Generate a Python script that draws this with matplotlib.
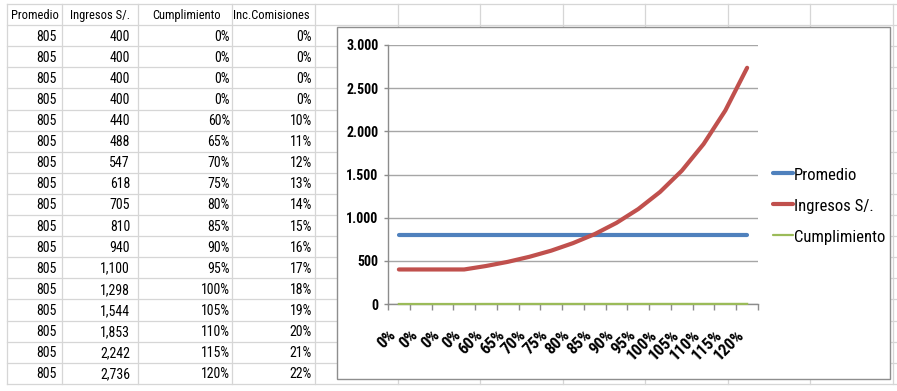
import matplotlib
matplotlib.use("Agg")
import matplotlib.pyplot as plt
from matplotlib import font_manager as fm
from matplotlib.lines import Line2D
from matplotlib.patches import Rectangle
from matplotlib.ticker import FixedLocator, FuncFormatter

# ---------------- data ----------------
headers = ["Promedio", "Ingresos S/.", "Cumplimiento", "Inc.Comisiones"]
promedio = [805, 805, 805, 805, 805, 805, 805, 805, 805, 805, 805, 805, 805, 805, 805, 805, 805]
ingresos = [400, 400, 400, 400, 440, 488, 547, 618, 705, 810, 940, 1100, 1298, 1544, 1853, 2242, 2736]
cumplimiento = [0, 0, 0, 0, 60, 65, 70, 75, 80, 85, 90, 95, 100, 105, 110, 115, 120]
inc_comisiones = [0, 0, 0, 0, 10, 11, 12, 13, 14, 15, 16, 17, 18, 19, 20, 21, 22]
series_names = ["Promedio", "Ingresos S/.", "Cumplimiento"]
y_ticks = [0, 500, 1000, 1500, 2000, 2500, 3000]

# ---------------- fonts ----------------
names = {f.name for f in fm.fontManager.ttflist}
NARROW, K = "Liberation Sans", 0.84
for cand in ["Liberation Sans Narrow", "Arial Narrow", "Roboto Condensed", "PT Sans Narrow",
             "Archivo Narrow", "Open Sans Condensed"]:
    if cand in names:
        NARROW, K = cand, 1.0
        break

W, H = 897, 391
fig = plt.figure(figsize=(W / 100, H / 100), dpi=100)
fig.patch.set_facecolor("white")


def fx(x):
    return x / W


def fy(y):
    return 1 - y / H


# ---------------- spreadsheet grid ----------------
GRID = "#D6D6D6"
row_top = 4.0
row_h = 21.1
n_rows = len(promedio) + 1
col_x = [7, 62, 138, 232, 315, 398, 480, 563, 645, 728, 810, 893]
bottom = row_top + n_rows * row_h
for k in range(n_rows + 1):
    y = row_top + k * row_h
    fig.add_artist(Line2D([fx(7), fx(W)], [fy(y), fy(y)], color=GRID, lw=0.9, zorder=0.5))
for x in col_x:
    fig.add_artist(Line2D([fx(x), fx(x)], [fy(row_top), fy(bottom)], color=GRID, lw=0.9, zorder=0.5))

# ---------------- table text ----------------
tfs = 10 * K
hfs = 9 * K
head_centers = [34.5, 99.5, 187, 271]
for c, h in zip(head_centers, headers):
    fig.text(fx(c), fy(row_top + row_h / 2 + 0.5), h, ha="center", va="center",
             family=NARROW, fontsize=hfs, color="black", zorder=2)

right_edges = [57, 130, 230, 312]
for i in range(len(promedio)):
    yc = row_top + (i + 1) * row_h + row_h / 2 + 1
    vals = [f"{promedio[i]:,}", f"{ingresos[i]:,}", f"{cumplimiento[i]}%", f"{inc_comisiones[i]}%"]
    for r, v in zip(right_edges, vals):
        fig.text(fx(r), fy(yc), v, ha="right", va="center", family=NARROW,
                 fontsize=tfs, color="black", zorder=2)

# ---------------- chart frame ----------------
frame = Rectangle((fx(337), fy(379)), fx(890) - fx(337), fy(27) - fy(379),
                  transform=fig.transFigure, facecolor="white", edgecolor="#8E8E8E",
                  lw=1.0, zorder=1)
fig.add_artist(frame)

# ---------------- chart axes ----------------
ax_l, ax_r, ax_top, ax_bot = 388, 758, 45, 304
ax = fig.add_axes([fx(ax_l), fy(ax_bot), fx(ax_r) - fx(ax_l), fy(ax_top) - fy(ax_bot)])
ax.set_zorder(5)
ax.patch.set_visible(False)

x = list(range(len(promedio)))
colors = ["#4F81BD", "#C0504D", "#9BBB59"]
ax.plot(x, promedio, color=colors[0], lw=3.0, solid_capstyle="round", zorder=3)
ax.plot(x, ingresos, color=colors[1], lw=3.0, solid_capstyle="round", zorder=4)
ax.plot(x, [c / 100 for c in cumplimiento], color=colors[2], lw=1.6, zorder=5, clip_on=False)

ax.set_xlim(-0.5, len(promedio) - 0.5)
ax.set_ylim(0, 3000)

for s in ["top", "right"]:
    ax.spines[s].set_visible(False)
for s in ["left", "bottom"]:
    ax.spines[s].set_color("#8C8C8C")
    ax.spines[s].set_linewidth(1.0)

ax.yaxis.set_major_locator(FixedLocator(y_ticks))
ax.yaxis.set_major_formatter(FuncFormatter(lambda v, p: f"{v:,.0f}".replace(",", ".")))
ax.grid(axis="y", color="#A6A6A6", lw=1.0, zorder=1)
ax.set_axisbelow(True)
ax.tick_params(axis="y", direction="out", length=3, width=1, color="#8C8C8C", pad=4)
for lab in ax.get_yticklabels():
    lab.set_family(NARROW)
    lab.set_fontweight("bold")
    lab.set_fontsize(10 * K)

ax.set_xticks(x)
ax.set_xticklabels([f"{c}%" for c in cumplimiento], rotation=45, ha="right", va="top",
                   family=NARROW, fontweight="bold", fontsize=12 * K)
ax.set_xticks([i - 0.5 for i in range(len(promedio) + 1)], minor=True)
ax.tick_params(axis="x", which="major", length=0, pad=16.5)
ax.tick_params(axis="x", which="minor", direction="out", length=4, width=1, color="#8C8C8C")

# ---------------- legend ----------------
leg_y = [173, 204, 235]
leg_lw = [3.0, 3.0, 1.6]
for name, col, ly, lw in zip(series_names, colors, leg_y, leg_lw):
    fig.add_artist(Line2D([fx(773), fx(793)], [fy(ly), fy(ly)], color=col, lw=lw,
                          solid_capstyle="round", zorder=6))
    fig.text(fx(794), fy(ly + 7), name, ha="left", va="baseline", family=NARROW,
             fontsize=12 * K, color="black", zorder=6)

fig.savefig("out.png", dpi=100)
